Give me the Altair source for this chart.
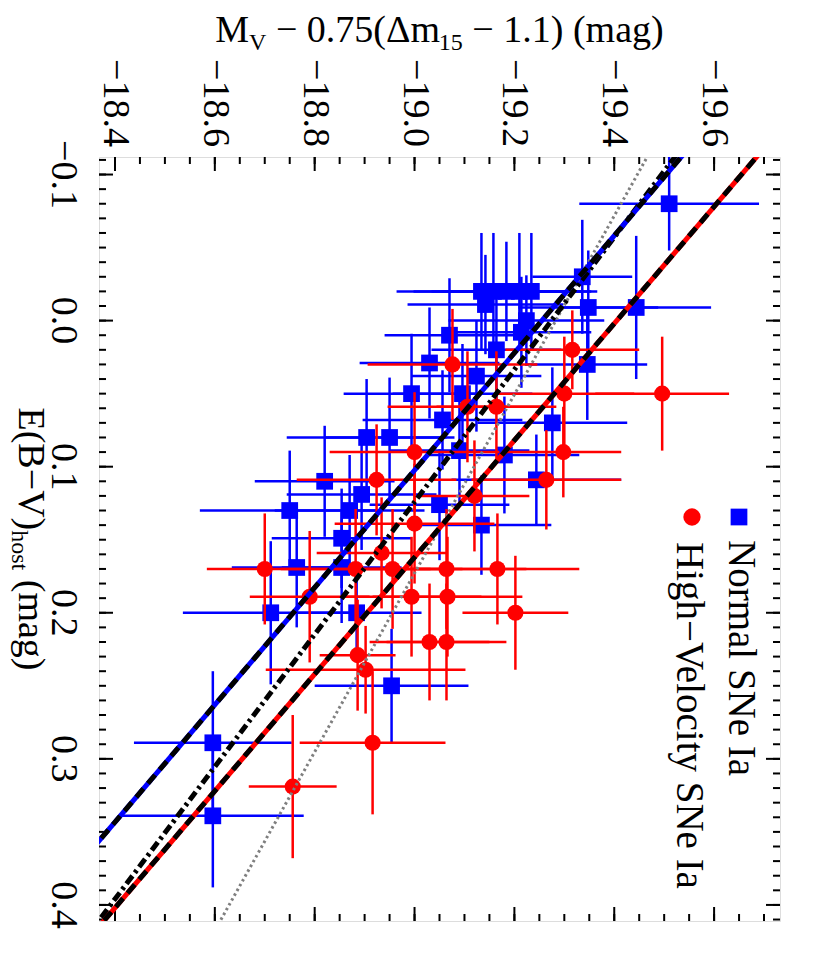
import altair as alt
import pandas as pd

FONT = "Liberation Serif"

# ---------------- data ----------------
# Normal SNe Ia (blue squares)
normal_ebv = [-0.080, -0.009, -0.009, -0.030, 0.030, -0.020, -0.020, -0.020, -0.020, -0.020,
              -0.011, 0.000, 0.008, 0.010, 0.029, 0.050, 0.050, 0.038, 0.020, 0.070,
              0.068, 0.080, 0.080, 0.110, 0.119, 0.130, 0.130, 0.109, 0.149, 0.169,
              0.169, 0.200, 0.200, 0.250, 0.289, 0.339, 0.140, 0.089, 0.092, 0.126]
normal_ebv_err = [0.032, 0.049, 0.039, 0.039, 0.038, 0.040, 0.040, 0.034, 0.040, 0.040,
                  0.034, 0.031, 0.038, 0.039, 0.038, 0.041, 0.034, 0.038, 0.041, 0.038,
                  0.034, 0.040, 0.041, 0.038, 0.038, 0.041, 0.038, 0.031, 0.034, 0.041,
                  0.038, 0.049, 0.034, 0.039, 0.049, 0.049, 0.034, 0.038, 0.040, 0.038]
normal_mv = [-19.510, -19.444, -19.348, -19.336, -19.346, -19.134, -19.158, -19.184, -19.210, -19.234,
             -19.142, -19.224, -19.214, -19.070, -19.030, -18.994, -19.096, -19.124, -19.164, -19.276,
             -19.056, -18.904, -18.950, -18.820, -18.894, -18.750, -18.870, -19.244, -18.854, -18.764,
             -18.854, -18.712, -18.884, -18.954, -18.596, -18.596, -19.134, -19.090, -19.180, -19.050]
normal_mv_err = [0.18, 0.15, 0.14, 0.10, 0.12, 0.17, 0.16, 0.15, 0.156, 0.12,
                 0.156, 0.156, 0.14, 0.13, 0.14, 0.136, 0.14, 0.13, 0.13, 0.15,
                 0.16, 0.16, 0.13, 0.14, 0.15, 0.18, 0.15, 0.17, 0.14, 0.13,
                 0.12, 0.176, 0.13, 0.154, 0.158, 0.182, 0.14, 0.14, 0.15, 0.14]

# High-Velocity SNe Ia (red circles)
hv_ebv = [0.030, 0.020, 0.050, 0.050, 0.059, 0.059, 0.090, 0.090, 0.109, 0.109,
          0.120, 0.139, 0.170, 0.189, 0.170, 0.159, 0.170, 0.189, 0.170, 0.189,
          0.220, 0.220, 0.229, 0.239, 0.289, 0.319, 0.170, 0.200]
hv_ebv_err = [0.038, 0.027, 0.039, 0.039, 0.038, 0.038, 0.041, 0.031, 0.038, 0.034,
              0.038, 0.041, 0.038, 0.045, 0.041, 0.038, 0.041, 0.041, 0.041, 0.041,
              0.040, 0.040, 0.038, 0.030, 0.049, 0.049, 0.038, 0.039]
hv_mv = [-19.076, -19.316, -19.496, -19.300, -19.106, -19.164, -19.000, -19.298, -18.924, -19.264,
         -19.120, -19.000, -18.700, -18.790, -18.882, -18.934, -18.956, -18.994, -19.064, -19.066,
         -19.030, -19.064, -18.886, -18.902, -18.916, -18.756, -19.166, -19.202]
hv_mv_err = [0.17, 0.134, 0.134, 0.14, 0.16, 0.12, 0.17, 0.116, 0.16, 0.15,
             0.11, 0.16, 0.116, 0.12, 0.15, 0.13, 0.14, 0.14, 0.16, 0.15,
             0.12, 0.12, 0.076, 0.20, 0.146, 0.088, 0.164, 0.106]

# fitted lines: end points (E(B-V), M_V)
fit_ebv = [-0.12, 0.42]
fit_normal_mv = [-19.554, -18.209]
fit_hv_mv = [-19.705, -18.355]
fit_all_mv = [-19.539, -18.347]
fit_dotted_mv = [-19.479, -18.596]

# axes
mv_major = [-18.4, -18.6, -18.8, -19.0, -19.2, -19.4, -19.6]
mv_minor = [round(-18.40 - 0.05 * i, 2) for i in range(27)]
ebv_major = [-0.1, 0.0, 0.1, 0.2, 0.3, 0.4]
ebv_minor = [round(-0.11 + 0.01 * i, 2) for i in range(53)]
mv_domain = [-18.368, -19.732]
ebv_domain = [-0.112, 0.411]

title_top_parts = ["M", "V", " \u2212 0.75(\u0394m", "15", " \u2212 1.1) (mag)"]
title_top_sub = [False, True, False, True, False]
title_left_parts = ["E(B\u2212V)", "host", " (mag)"]
title_left_sub = [False, True, False]
legend_labels = ["Normal SNe Ia", "High\u2212Velocity SNe Ia"]

# ---------------- layout ----------------
W, H = 681, 764
BIG, SUB = 38, 24
TICKFS = 38
CW = {' ': 0.25, '\u2212': 0.564, '.': 0.25, '(': 0.333, ')': 0.333, 'M': 0.889,
      'V': 0.722, '\u0394': 0.612, 'm': 0.778, 'a': 0.444, 'g': 0.5, 'E': 0.611, 'B': 0.667,
      'h': 0.5, 'o': 0.5, 's': 0.389, 't': 0.278}


def text_width(s, size):
    return sum(CW.get(c, 0.5) for c in s) * size


def fmt(v):
    return f"{v:.1f}".replace("-", "\u2212")


xscale = alt.Scale(domain=mv_domain, nice=False, zero=False)
yscale = alt.Scale(domain=ebv_domain, nice=False, zero=False, reverse=True)


def X(f):
    return alt.X(f, type="quantitative", scale=xscale, axis=None)


def Y(f):
    return alt.Y(f, type="quantitative", scale=yscale, axis=None)


def points_df(ebv, ebv_err, mv, mv_err):
    d = pd.DataFrame({"ebv": ebv, "eerr": ebv_err, "mv": mv, "merr": mv_err})
    d["elo"] = d["ebv"] - d["eerr"]
    d["ehi"] = d["ebv"] + d["eerr"]
    d["mlo"] = d["mv"] - d["merr"]
    d["mhi"] = d["mv"] + d["merr"]
    return d


normal = points_df(normal_ebv, normal_ebv_err, normal_mv, normal_mv_err)
hv = points_df(hv_ebv, hv_ebv_err, hv_mv, hv_mv_err)

layers = []

# inward ticks on all four sides
ebv_t = pd.DataFrame({"v": ebv_minor})
ebv_T = pd.DataFrame({"v": ebv_major, "lab": [fmt(v) for v in ebv_major]})
mv_t = pd.DataFrame({"v": mv_minor})
mv_T = pd.DataFrame({"v": mv_major, "lab": [fmt(v) for v in mv_major]})
for dfr, ln in [(ebv_t, 7), (ebv_T, 14)]:
    layers.append(alt.Chart(dfr).mark_rule(color="black", strokeWidth=2).encode(
        y=Y("v"), x=alt.value(0), x2=alt.value(ln)))
    layers.append(alt.Chart(dfr).mark_rule(color="black", strokeWidth=2).encode(
        y=Y("v"), x=alt.value(W), x2=alt.value(W - ln)))
for dfr, ln in [(mv_t, 7), (mv_T, 14)]:
    layers.append(alt.Chart(dfr).mark_rule(color="black", strokeWidth=2).encode(
        x=X("v"), y=alt.value(0), y2=alt.value(ln)))
    layers.append(alt.Chart(dfr).mark_rule(color="black", strokeWidth=2).encode(
        x=X("v"), y=alt.value(H), y2=alt.value(H - ln)))

# tick labels (rotated, serif)
layers.append(alt.Chart(mv_T).mark_text(
    font=FONT, fontSize=TICKFS, color="black", angle=90, align="right", baseline="middle").encode(
    x=X("v"), y=alt.value(-10), text="lab:N"))
layers.append(alt.Chart(ebv_T).mark_text(
    font=FONT, fontSize=TICKFS, color="black", angle=90, align="center", baseline="top").encode(
    y=Y("v"), x=alt.value(-17), text="lab:N"))


def data_layers(d, color, shape, size):
    h = alt.Chart(d).mark_rule(color=color, strokeWidth=2.5).encode(
        x=X("mlo"), x2="mhi:Q", y=Y("ebv"))
    v = alt.Chart(d).mark_rule(color=color, strokeWidth=2.5).encode(
        x=X("mv"), y=Y("elo"), y2="ehi:Q")
    p = alt.Chart(d).mark_point(shape=shape, filled=True, color=color, size=size,
                                opacity=1, strokeWidth=0).encode(x=X("mv"), y=Y("ebv"))
    return [h, v, p]


layers += data_layers(normal, "#0000ff", "square", 280)
layers += data_layers(hv, "#ff0000", "circle", 260)


def line_df(mv):
    return pd.DataFrame({"ebv": fit_ebv, "mv": mv})


layers.append(alt.Chart(line_df(fit_dotted_mv)).mark_line(
    color="#7f7f7f", strokeWidth=3, strokeDash=[2.5, 3], clip=True).encode(x=X("mv"), y=Y("ebv")))
layers.append(alt.Chart(line_df(fit_all_mv)).mark_line(
    color="black", strokeWidth=5, strokeDash=[10, 4, 3, 4], clip=True).encode(x=X("mv"), y=Y("ebv")))
for mv, col in [(fit_normal_mv, "#0000ff"), (fit_hv_mv, "#ff0000")]:
    layers.append(alt.Chart(line_df(mv)).mark_line(
        color=col, strokeWidth=5, clip=True).encode(x=X("mv"), y=Y("ebv")))
    layers.append(alt.Chart(line_df(mv)).mark_line(
        color="black", strokeWidth=5, strokeDash=[11, 7], clip=True).encode(x=X("mv"), y=Y("ebv")))

# legend (rotated, as in the figure)
one = pd.DataFrame({"a": [0]})
layers.append(alt.Chart(one).mark_point(shape="square", filled=True, color="#0000ff", size=280,
                                        opacity=1, strokeWidth=0).encode(
    x=alt.value(640), y=alt.value(360)))
layers.append(alt.Chart(one).mark_point(shape="circle", filled=True, color="#ff0000", size=300,
                                        opacity=1, strokeWidth=0).encode(
    x=alt.value(593), y=alt.value(360)))
for lab, bx, by in [(legend_labels[0], 630, 383), (legend_labels[1], 578, 385)]:
    layers.append(alt.Chart(pd.DataFrame({"t": [lab]})).mark_text(
        font=FONT, fontSize=39, color="black", angle=90, align="left", baseline="alphabetic").encode(
        text="t:N", x=alt.value(bx), y=alt.value(by)))


def split_lead(t):
    body = t.lstrip(" ")
    return body, len(t) - len(body)


# top title with subscripts (leading spaces become offsets, since text is trimmed)
sizes = [SUB if s else BIG for s in title_top_sub]
total = sum(text_width(t, s) for t, s in zip(title_top_parts, sizes))
cx = W / 2 - total / 2
for t, sub, s in zip(title_top_parts, title_top_sub, sizes):
    body, lead = split_lead(t)
    layers.append(alt.Chart(pd.DataFrame({"t": [body]})).mark_text(
        font=FONT, fontSize=s, color="black", align="left", baseline="alphabetic").encode(
        text="t:N", x=alt.value(cx + lead * CW[' '] * s), y=alt.value(-115 + (8 if sub else 0))))
    cx += text_width(t, s)

# left title (rotated) with subscript
sizes = [SUB if s else BIG for s in title_left_sub]
total = sum(text_width(t, s) for t, s in zip(title_left_parts, sizes))
cy = H / 2 - total / 2
for t, sub, s in zip(title_left_parts, title_left_sub, sizes):
    body, lead = split_lead(t)
    layers.append(alt.Chart(pd.DataFrame({"t": [body]})).mark_text(
        font=FONT, fontSize=s, color="black", angle=90, align="left", baseline="alphabetic").encode(
        text="t:N", x=alt.value(-80 - (7 if sub else 0)), y=alt.value(cy + lead * CW[' '] * s)))
    cy += text_width(t, s)

chart = alt.layer(*layers).properties(
    width=W, height=H,
    autosize=alt.AutoSizeParams(type="none"),
    padding={"left": 91, "top": 149, "right": 30, "bottom": 40},
).configure_view(stroke="black", strokeWidth=2).configure_text(font=FONT).configure(background="white")

chart.save("out.html", embed_options={"renderer": "svg", "actions": False})
